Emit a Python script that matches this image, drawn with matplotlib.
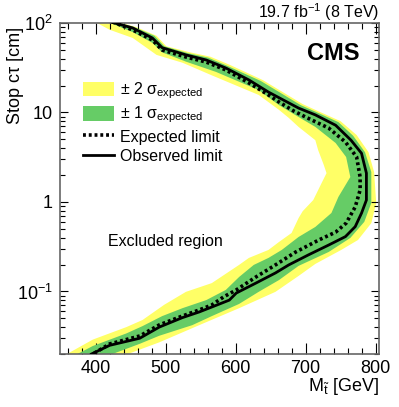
import numpy as np
import matplotlib
matplotlib.use("Agg")
import matplotlib.pyplot as plt
from matplotlib.patches import Patch
from matplotlib.lines import Line2D
from matplotlib.ticker import FixedLocator, FixedFormatter, LogLocator, MultipleLocator, NullFormatter

plt.rcParams['font.family'] = ['Liberation Sans', 'DejaVu Sans']
plt.rcParams['mathtext.fontset'] = 'custom'
plt.rcParams['mathtext.rm'] = 'Liberation Sans'
plt.rcParams['mathtext.it'] = 'Liberation Sans:italic'
plt.rcParams['mathtext.bf'] = 'Liberation Sans:bold'

# ---- data (stop mass [GeV], c*tau [cm]) ----
obs_x = [421, 453, 481, 495, 529, 558, 586, 619, 647, 676, 690, 714, 743, 765, 780, 787,
         787, 780, 771, 757, 733, 704, 676, 657, 629, 601, 591, 566, 548, 524, 491, 463, 420, 394]
obs_y = [103, 88, 68, 53, 44, 38.6, 31.4, 23.1, 16.9, 12.8, 11.2, 9.4, 7.2, 4.9, 3.5, 2.1,
         1.05, 0.75, 0.53, 0.41, 0.33, 0.256, 0.198, 0.161, 0.124, 0.096, 0.080, 0.067, 0.059,
         0.051, 0.040, 0.030, 0.025, 0.020]

exp_x = [424, 453, 481, 495, 529, 558, 586, 619, 647, 662, 683, 700, 733, 757, 773, 778,
         778, 771, 758, 743, 719, 686, 657, 629, 601, 583, 566, 548, 524, 491, 463, 420, 396]
exp_y = [103, 83.6, 64.6, 49.9, 41.7, 36.6, 29.9, 21.4, 15.7, 13.1, 10.4, 8.9, 6.7, 4.68, 3.18,
         1.90, 1.36, 0.88, 0.58, 0.46, 0.376, 0.276, 0.198, 0.145, 0.104, 0.087, 0.0706, 0.0621,
         0.0532, 0.0423, 0.0318, 0.0259, 0.020]

s1_out_x = [428, 455, 484, 498, 532, 561, 589, 636, 693, 718, 747, 768, 785, 794, 794, 784,
            764, 733, 690, 662, 633, 605, 566, 538, 491, 463, 424]
s1_out_y = [103, 90, 72, 55, 46, 41, 33, 22.5, 12.1, 9.9, 7.8, 5.5, 3.6, 2.16, 0.975, 0.60,
            0.396, 0.276, 0.193, 0.134, 0.099, 0.0725, 0.053, 0.042, 0.032, 0.026, 0.020]
s1_in_x = [417, 453, 481, 495, 529, 572, 633, 662, 690, 714, 743, 758, 764, 747, 737, 714,
           690, 666, 647, 626, 605, 586, 558, 524, 495, 467, 444, 396, 374]
s1_in_y = [103, 79, 60, 47, 37, 28.4, 17.8, 12.1, 8.9, 6.9, 4.56, 3.18, 1.90, 1.14, 0.753,
           0.526, 0.406, 0.291, 0.237, 0.198, 0.145, 0.104, 0.080, 0.065, 0.053, 0.041, 0.034,
           0.0246, 0.020]

s2_out_x = [431, 458, 487, 501, 535, 564, 592, 639, 696, 721, 750, 773, 790, 798, 801, 794,
            775, 751, 714, 690, 657, 605, 548, 491, 446]
s2_out_y = [103, 90, 72, 55, 47, 42, 34, 23, 12.4, 10.1, 8.0, 5.6, 3.6, 2.16, 0.975, 0.58,
            0.376, 0.291, 0.203, 0.149, 0.099, 0.065, 0.042, 0.027, 0.020]
s2_in_x = [399, 420, 453, 487, 524, 566, 633, 662, 676, 690, 714, 718, 726, 730, 723, 711,
           696, 690, 680, 662, 647, 619, 605, 566, 529, 498, 467, 444, 396, 359]
s2_in_y = [103, 84, 68, 44, 36, 26, 15.7, 10.7, 8.7, 6.9, 4.9, 3.8, 2.6, 2.1, 1.63, 1.05,
           0.79, 0.66, 0.45, 0.357, 0.291, 0.237, 0.198, 0.124, 0.099, 0.071, 0.048, 0.040,
           0.029, 0.020]

ytick_vals = [0.1, 1, 10, 100]
ytick_labels = ['10$^{-1}$', '1', '10', '10$^{2}$']
xtick_vals = [400, 500, 600, 700, 800]

yellow = '#ffff66'
green = '#66cc66'

fig = plt.figure(figsize=(3.99, 4.07), dpi=100)
ax = fig.add_axes([60/399, 1-354/407, 319/399, 331/407])

ax.fill(np.concatenate([s2_out_x, s2_in_x[::-1]]), np.concatenate([s2_out_y, s2_in_y[::-1]]),
        color=yellow, lw=0, zorder=1)
ax.fill(np.concatenate([s1_out_x, s1_in_x[::-1]]), np.concatenate([s1_out_y, s1_in_y[::-1]]),
        color=green, lw=0, zorder=2)
ax.plot(exp_x, exp_y, color='black', lw=2.6, ls=(0, (0.8, 0.8)), zorder=3)
ax.plot(obs_x, obs_y, color='black', lw=2.0, zorder=4)

ax.set_yscale('log')
ax.set_xlim(349, 805)
ax.set_ylim(0.02, 100)

ax.xaxis.set_major_locator(FixedLocator(xtick_vals))
ax.xaxis.set_minor_locator(MultipleLocator(20))
ax.yaxis.set_major_locator(FixedLocator(ytick_vals))
ax.yaxis.set_major_formatter(FixedFormatter(ytick_labels))
ax.yaxis.set_minor_locator(LogLocator(base=10, subs=np.arange(2, 10)))
ax.yaxis.set_minor_formatter(NullFormatter())

ax.tick_params(which='both', direction='in', top=True, right=True, colors='black',
               labelsize=13, width=0.8)
ax.tick_params(axis='x', which='major', length=8, pad=4)
ax.tick_params(axis='x', which='minor', length=4)
ax.tick_params(axis='y', which='major', length=6, pad=5)
ax.tick_params(axis='y', which='minor', length=3.5)
for sp in ax.spines.values():
    sp.set_color('#666666')
    sp.set_linewidth(1.2)

ax.text(1.0, -0.097, r'M$_{\tilde{\mathrm{t}}}$ [GeV]', transform=ax.transAxes,
        ha='right', va='center', fontsize=13)
ax.text(-0.138, 0.988, 'Stop cτ [cm]', transform=ax.transAxes, rotation=90,
        ha='center', va='top', fontsize=13)
ax.text(1.0, 1.016, '19.7 fb$^{-1}$ (8 TeV)', transform=ax.transAxes,
        ha='right', va='baseline', fontsize=11.5)
ax.text(0.94, 0.908, 'CMS', transform=ax.transAxes, ha='right', va='center',
        fontsize=17, fontweight='bold')
ax.text(500, 0.36, 'Excluded region', ha='center', va='center', fontsize=11.5)

handles = [Patch(facecolor=yellow, edgecolor='none'),
           Patch(facecolor=green, edgecolor='none'),
           Line2D([], [], color='black', lw=2.6, ls=(0, (0.8, 0.8))),
           Line2D([], [], color='black', lw=2.0)]
labels = ['± 2 σ$_{\\mathrm{expected}}$', '± 1 σ$_{\\mathrm{expected}}$',
          'Expected limit', 'Observed limit']
leg = ax.legend(handles, labels, loc='upper left', bbox_to_anchor=(0.072, 0.826),
                frameon=False, fontsize=11.5, handlelength=1.95, handleheight=1.05,
                handletextpad=0.35, labelspacing=0.22, borderpad=0, borderaxespad=0)
leg.set_zorder(5)

fig.savefig('out.png', dpi=100)
